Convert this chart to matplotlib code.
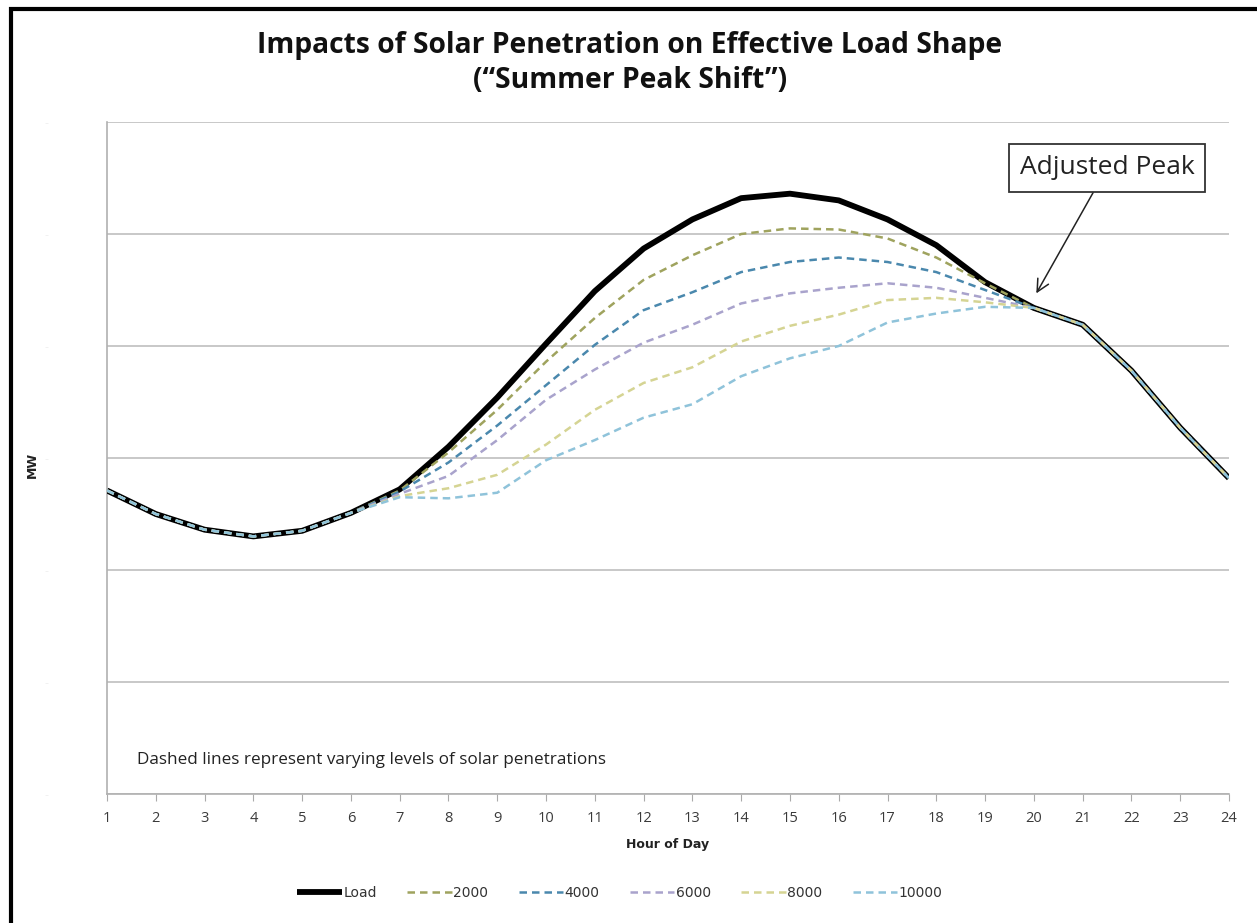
import matplotlib
matplotlib.use("Agg")
import matplotlib.pyplot as plt
from matplotlib.patches import Rectangle

hours = list(range(1, 25))
load = [2.71, 2.50, 2.36, 2.30, 2.35, 2.51, 2.72, 3.10, 3.54, 4.02, 4.49, 4.87,
        5.13, 5.32, 5.36, 5.30, 5.13, 4.90, 4.57, 4.34, 4.19, 3.78, 3.27, 2.82]
tail = [4.19, 3.78, 3.27, 2.82]
head = [2.71, 2.50, 2.36, 2.30, 2.35, 2.51]
pv2000 = head + [2.71, 3.05, 3.43, 3.86, 4.25, 4.59, 4.81, 5.00, 5.05, 5.04, 4.96, 4.79, 4.56, 4.34] + tail
pv4000 = head + [2.70, 2.96, 3.29, 3.65, 4.01, 4.32, 4.48, 4.66, 4.75, 4.79, 4.75, 4.66, 4.50, 4.34] + tail
pv6000 = head + [2.68, 2.84, 3.16, 3.52, 3.79, 4.03, 4.19, 4.38, 4.47, 4.52, 4.56, 4.52, 4.43, 4.34] + tail
pv8000 = head + [2.66, 2.73, 2.85, 3.12, 3.43, 3.67, 3.81, 4.04, 4.18, 4.28, 4.41, 4.43, 4.39, 4.34] + tail
pv10000 = head + [2.65, 2.64, 2.69, 2.98, 3.16, 3.36, 3.48, 3.73, 3.89, 4.00, 4.21, 4.29, 4.35, 4.34] + tail
series_labels = ["2000", "4000", "6000", "8000", "10000"]
series = [pv2000, pv4000, pv6000, pv8000, pv10000]
colors = ["#9fa35e", "#4a88ad", "#a9a3cc", "#d5d493", "#8fc3da"]
ytick_vals = [0, 1, 2, 3, 4, 5, 6]
ytick_labels = ["-", "-", "-", "-", "-", "-", "-"]

fig = plt.figure(figsize=(12.57, 9.23), dpi=100)
fig.patches.append(Rectangle((11/1257, -0.05), 1.5, (923-9)/923 + 0.05, transform=fig.transFigure,
                             fill=False, edgecolor="black", linewidth=3, zorder=10))

ax = fig.add_axes([107/1257, 1-794/923, (1229-107)/1257, (794-122)/923])
ax.set_xlim(1, 24)
ax.set_ylim(0, 6)
ax.set_yticks(ytick_vals)
ax.set_yticklabels(ytick_labels, color="#eeeeee", fontsize=8)
ax.yaxis.grid(True, color="#c4c4c4", linewidth=1.3)
ax.set_axisbelow(True)
ax.tick_params(axis="y", length=0, pad=42)
ax.set_xticks(hours)
ax.set_xticklabels([str(h) for h in hours], fontsize=10.5, color="#3a3a3a", family="Open Sans")
ax.tick_params(axis="x", length=5, color="#aaaaaa", direction="out", pad=7)
for s in ["top", "right"]:
    ax.spines[s].set_visible(False)
ax.spines["left"].set_color("#b0b0b0")
ax.spines["bottom"].set_color("#b0b0b0")
ax.spines["left"].set_linewidth(1.2)
ax.spines["bottom"].set_linewidth(1.2)

ax.plot(hours, load, color="black", linewidth=4.2, label="Load", zorder=3, solid_capstyle="butt")
for vals, lab, c in zip(series, series_labels, colors):
    ax.plot(hours, vals, color=c, linewidth=1.8, linestyle=(0, (3, 2)), label=lab, zorder=4)

ax.set_xlabel("Hour of Day", fontsize=9, fontweight="bold", color="#222222", labelpad=9)
fig.text(32/1257, 1-465/923, "MW", rotation=90, fontsize=9, fontweight="bold",
         ha="center", va="center", color="#222222")

fig.text(630/1257, 1-45/923, "Impacts of Solar Penetration on Effective Load Shape",
         fontsize=20.3, fontweight="bold", ha="center", va="center", family="Open Sans", color="#111111")
fig.text(630/1257, 1-80/923, "(\u201cSummer Peak Shift\u201d)",
         fontsize=20.3, fontweight="bold", ha="center", va="center", family="Open Sans", color="#111111")

ax.text(137/1257, 1-760/923, "Dashed lines represent varying levels of solar penetrations",
        transform=fig.transFigure, fontsize=12.3, color="#222222", family="Open Sans", va="center")

ax.annotate("Adjusted Peak", xy=(20.05, 4.47), xytext=(1107/1257, 1-168/923),
            textcoords="figure fraction", fontsize=19, family="Open Sans", color="#222222",
            ha="center", va="center",
            bbox=dict(boxstyle="square,pad=0.42", fc="white", ec="#333333", lw=1.3),
            arrowprops=dict(arrowstyle="->", color="#222222", lw=1.1, mutation_scale=22,
                            shrinkA=0, shrinkB=0))

handles, labels = ax.get_legend_handles_labels()
fig.legend(handles, labels, loc="center", bbox_to_anchor=(620/1257, 1-893/923), ncol=6,
           frameon=False, fontsize=10, handlelength=3.2, handletextpad=0.1, columnspacing=2.2,
           labelcolor="#333333")

fig.savefig("out.png", dpi=100)
